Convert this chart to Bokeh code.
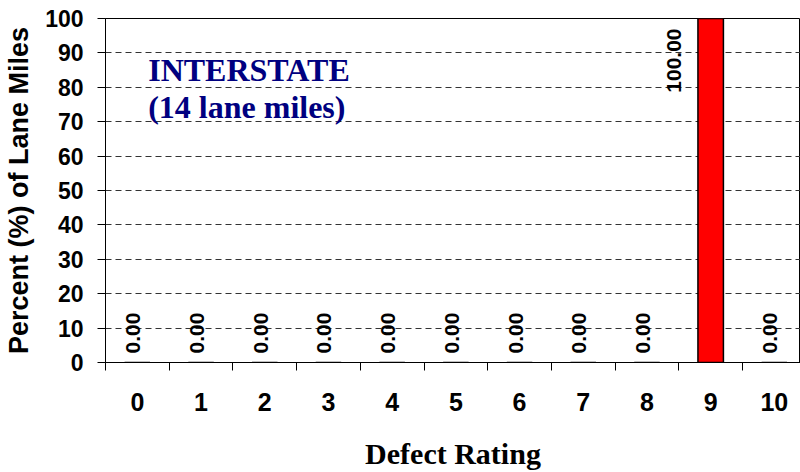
from bokeh.plotting import figure
from bokeh.models import ColumnDataSource, FixedTicker, Range1d, Label
from bokeh.core.properties import value
from bokeh.embed import file_html
from bokeh.resources import INLINE

ratings = [0, 1, 2, 3, 4, 5, 6, 7, 8, 9, 10]
rating_labels = ["0", "1", "2", "3", "4", "5", "6", "7", "8", "9", "10"]
percents = [0.0, 0.0, 0.0, 0.0, 0.0, 0.0, 0.0, 0.0, 0.0, 100.0, 0.0]
y_ticks = [0, 10, 20, 30, 40, 50, 60, 70, 80, 90, 100]
title_lines = ["INTERSTATE", "(14 lane miles)"]

p = figure(width=800, height=472, output_backend="svg", toolbar_location=None,
           x_range=Range1d(-0.5, 10.41), y_range=Range1d(0, 100),
           min_border_left=105, min_border_right=0, min_border_top=18, min_border_bottom=107)
p.outline_line_color = "black"
p.outline_line_width = 1
p.background_fill_color = "white"
p.border_fill_color = "white"

labels_txt = ["%.2f" % v for v in percents]
nonzero = [v > 0 for v in percents]
src = ColumnDataSource(dict(x=ratings, top=percents))

# bars
p.vbar(x="x", top="top", bottom=0, width=0.4, source=src,
       fill_color="#ff0000", line_color="black", line_width=1.5)

# grid
p.xgrid.grid_line_color = None
p.ygrid.ticker = FixedTicker(ticks=y_ticks)
p.ygrid.grid_line_color = "#333333"
p.ygrid.grid_line_dash = "6 4"
p.ygrid.grid_line_width = 1

# y axis
p.yaxis.ticker = FixedTicker(ticks=y_ticks)
p.yaxis.major_label_text_font = "Liberation Sans"
p.yaxis.major_label_text_font_style = "bold"
p.yaxis.major_label_text_font_size = "23px"
p.yaxis.major_label_text_color = "black"
p.yaxis.major_tick_out = 8
p.yaxis.major_tick_in = 0
p.yaxis.minor_tick_line_color = None
p.yaxis.axis_line_color = "black"
p.yaxis.major_tick_line_color = "black"
p.yaxis.major_label_standoff = 14
p.yaxis.axis_label = "Percent (%) of Lane Miles"
p.yaxis.axis_label_text_font = "Liberation Sans"
p.yaxis.axis_label_text_font_style = "bold"
p.yaxis.axis_label_text_font_size = "27px"
p.yaxis.axis_label_text_color = "black"
p.yaxis.axis_label_standoff = 8

# x axis
p.xaxis.ticker = FixedTicker(ticks=ratings, minor_ticks=[r - 0.5 for r in ratings] + [10.5])
p.xaxis.major_label_overrides = {r: l for r, l in zip(ratings, rating_labels)}
p.xaxis.major_tick_line_color = None
p.xaxis.minor_tick_line_color = "black"
p.xaxis.minor_tick_out = 8
p.xaxis.minor_tick_in = 0
p.xaxis.axis_line_color = "black"
p.xaxis.major_label_text_font = "Liberation Sans"
p.xaxis.major_label_text_font_style = "bold"
p.xaxis.major_label_text_font_size = "25px"
p.xaxis.major_label_text_color = "black"
p.xaxis.major_label_standoff = 22
p.xaxis.axis_label = "Defect Rating"
p.xaxis.axis_label_text_font = "Liberation Serif"
p.xaxis.axis_label_text_font_style = "bold"
p.xaxis.axis_label_text_font_size = "30px"
p.xaxis.axis_label_text_color = "black"
p.xaxis.axis_label_standoff = 23

# value labels
zero_src = ColumnDataSource(dict(x=[r for r, nz in zip(ratings, nonzero) if not nz],
                                 y=[v for v, nz in zip(percents, nonzero) if not nz],
                                 t=[t for t, nz in zip(labels_txt, nonzero) if not nz]))
p.text(x="x", y="y", text="t", source=zero_src, angle=1.5708,
       x_offset=-4, y_offset=-9, text_align="left", text_baseline="middle",
       text_font=value("Liberation Sans"), text_font_style="bold",
       text_font_size="21px", text_color="black")
nz_src = ColumnDataSource(dict(x=[r for r, nz in zip(ratings, nonzero) if nz],
                               y=[v for v, nz in zip(percents, nonzero) if nz],
                               t=[t for t, nz in zip(labels_txt, nonzero) if nz]))
p.text(x="x", y="y", text="t", source=nz_src, angle=1.5708,
       x_offset=-37, y_offset=10, text_align="right", text_baseline="middle",
       text_font=value("Liberation Sans"), text_font_style="bold",
       text_font_size="21px", text_color="black")

# title annotation inside plot
title_y = [90.4, 79.4]
for line, ty in zip(title_lines, title_y):
    p.add_layout(Label(x=0.17, y=ty, text=line, text_font="Liberation Serif",
                       text_font_style="bold", text_font_size="32px",
                       text_color="#000080", text_baseline="top", text_align="left"))

open("out.html", "w").write(file_html(p, INLINE))
